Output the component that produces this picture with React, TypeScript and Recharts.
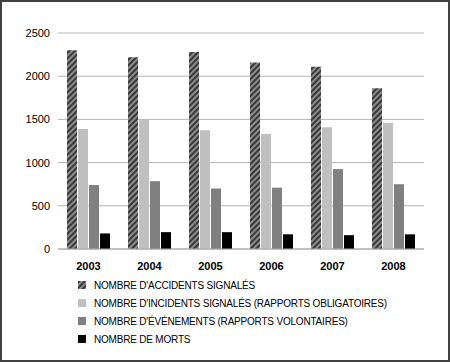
import { Bar, BarChart, CartesianGrid, XAxis, YAxis } from "recharts";

const YEARS = ["2003", "2004", "2005", "2006", "2007", "2008"];
const ACCIDENTS = [2300, 2220, 2280, 2160, 2110, 1860];
const INCIDENTS = [1390, 1500, 1375, 1330, 1410, 1460];
const EVENEMENTS = [740, 785, 700, 710, 925, 750];
const MORTS = [180, 195, 195, 170, 160, 170];
const Y_TICKS = [0, 500, 1000, 1500, 2000, 2500];

const SERIES = [
  { key: "accidents", name: "NOMBRE D'ACCIDENTS SIGNALÉS", fill: "url(#hatch)" },
  { key: "incidents", name: "NOMBRE D'INCIDENTS SIGNALÉS (RAPPORTS OBLIGATOIRES)", fill: "#c0c0c0" },
  { key: "evenements", name: "NOMBRE D'ÉVÉNEMENTS (RAPPORTS VOLONTAIRES)", fill: "#808080" },
  { key: "morts", name: "NOMBRE DE MORTS", fill: "#000000" },
];

const data = YEARS.map((year, i) => ({
  year,
  accidents: ACCIDENTS[i],
  incidents: INCIDENTS[i],
  evenements: EVENEMENTS[i],
  morts: MORTS[i],
}));

const font = "'Liberation Sans', Arial, sans-serif";

function HatchDefs({ id }: { id: string }) {
  return (
    <defs>
      <pattern id={id} patternUnits="userSpaceOnUse" width={4} height={4} patternTransform="rotate(45)">
        <rect x={0} y={0} width={4} height={4} fill="#8c8c8c" />
        <rect x={0} y={0} width={2} height={4} fill="#383838" />
      </pattern>
    </defs>
  );
}

export default function App() {
  return (
    <div
      style={{
        position: "absolute",
        top: 0,
        left: 0,
        width: 450,
        height: 362,
        boxSizing: "border-box",
        border: "2px solid #404040",
        background: "#fff",
        fontFamily: font,
      }}
    >
      <div style={{ position: "absolute", top: -2, left: -2 }}>
        <BarChart
          width={450}
          height={362}
          data={data}
          margin={{ top: 33, right: 26, left: 8, bottom: 83 }}
          barSize={10}
          barGap={1}
        >
          <HatchDefs id="hatch" />
          <CartesianGrid vertical={false} stroke="#b4b4b4" />
          <XAxis
            dataKey="year"
            height={30}
            tickLine={false}
            tickMargin={7}
            axisLine={{ stroke: "#a8a8a8" }}
            tick={{ fontSize: 11, fontWeight: "bold", fill: "#000", fontFamily: font }}
          />
          <YAxis
            width={50}
            domain={[0, 2500]}
            ticks={Y_TICKS}
            tickLine={false}
            axisLine={false}
            tick={{ fontSize: 11, fill: "#000", fontFamily: font }}
          />
          {SERIES.map((s) => (
            <Bar key={s.key} dataKey={s.key} name={s.name} fill={s.fill} isAnimationActive={false} />
          ))}
        </BarChart>
      </div>
      <div style={{ position: "absolute", left: 76, top: 274 }}>
        {SERIES.map((s, i) => (
          <div
            key={s.key}
            style={{ display: "flex", alignItems: "center", height: 18, fontSize: 10, color: "#000", letterSpacing: -0.2 }}
          >
            <svg width={8} height={8} style={{ marginRight: 8 }}>
              {i === 0 && <HatchDefs id="hatch-legend" />}
              <rect width={8} height={8} fill={i === 0 ? "url(#hatch-legend)" : s.fill} />
            </svg>
            <span>{s.name}</span>
          </div>
        ))}
      </div>
    </div>
  );
}
